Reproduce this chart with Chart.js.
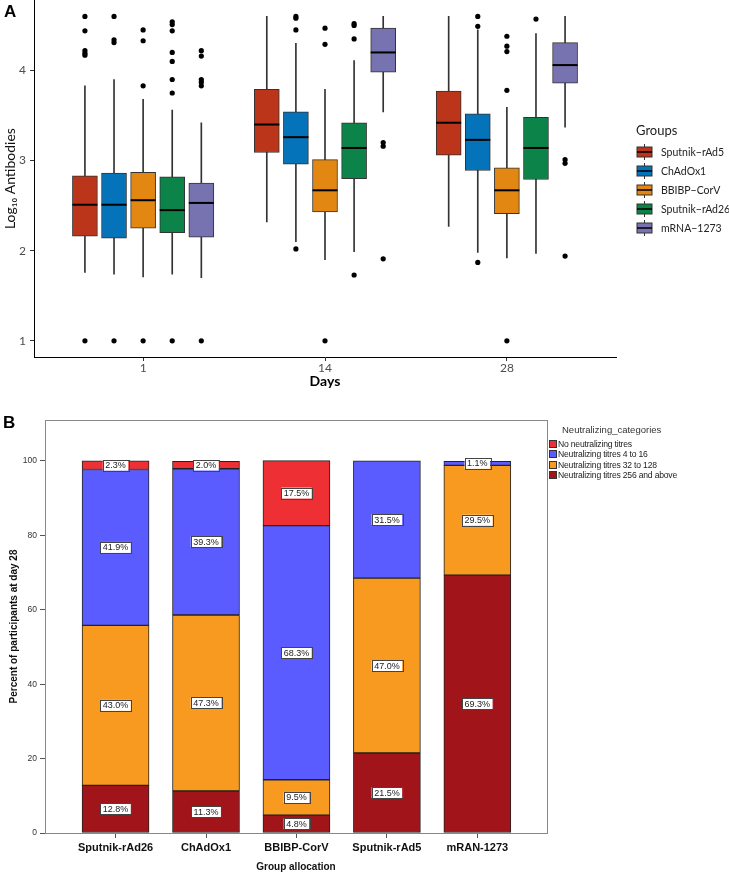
<!DOCTYPE html>
<html lang="en">
<head>
<meta charset="UTF-8" />
<title>Antibodies by group and day</title>
<script src="https://cdn.jsdelivr.net/npm/chart.js"></script>
<style>
  body { margin: 0; width: 729px; height: 877px; position: relative; background: #fff; overflow: hidden; }
  .tag { position: absolute; font-family: Arial, 'Liberation Sans', sans-serif; font-weight: 700; font-size: 17px; line-height: 20px; color: #000; z-index: 2; }
  #chartA { position: absolute; left: 0; top: -11px; }
  #chartB { position: absolute; left: 0; top: 385px; }
  /* legend A */
  #legendA { position: absolute; left: 636px; top: 121px; font-family: Lato, 'Noto Sans', sans-serif; color: #222; }
  #legendA .ttl { font-size: 13px; line-height: 18px; margin-bottom: 3px; }
  #legendA .item { height: 19px; display: flex; align-items: center; font-size: 10.5px; white-space: nowrap; }
  #legendA svg { margin-right: 8px; }
  /* legend B */
  #legendB { position: absolute; left: 549px; top: 424px; font-family: 'Liberation Sans', Arial, sans-serif; color: #222; }
  #legendB .ttl { font-size: 9.5px; line-height: 12px; margin-left: 13px; margin-bottom: 3px; color: #333; }
  #legendB .item { height: 10.3px; display: flex; align-items: center; font-size: 8.6px; letter-spacing: -0.2px; white-space: nowrap; }
  #legendB .sw { width: 6px; height: 6px; border: 1px solid #333; margin-right: 1px; }
</style>
</head>
<body>
  <div class="tag" style="left:4px; top:2px;">A</div>
  <div class="tag" style="left:3px; top:413px;">B</div>

  <canvas id="chartA" width="729" height="403"></canvas>
  <div id="legendA"></div>

  <canvas id="chartB" width="729" height="492"></canvas>
  <div id="legendB"></div>

<script>
  // ---------- panel A data ----------
  const days = ['1', '14', '28'];
  const groups = ['Sputnik\u2212rAd5', 'ChAdOx1', 'BBIBP\u2212CorV', 'Sputnik\u2212rAd26', 'mRNA\u22121273'];
  const yTicksA = [1, 2, 3, 4];

  // [group][day]
  const whiskerLow  = [[1.76, 2.32, 2.27], [1.74, 2.10, 1.98], [1.71, 1.90, 1.92], [1.74, 1.99, 1.97], [1.70, 3.54, 3.37]];
  const q1          = [[2.16, 3.09, 3.06], [2.14, 2.96, 2.89], [2.25, 2.43, 2.41], [2.20, 2.80, 2.79], [2.15, 3.98, 3.86]];
  const median      = [[2.51, 3.40, 3.42], [2.51, 3.26, 3.23], [2.56, 2.67, 2.67], [2.45, 3.14, 3.14], [2.53, 4.20, 4.06]];
  const q3          = [[2.83, 3.79, 3.77], [2.86, 3.54, 3.52], [2.87, 3.01, 2.92], [2.82, 3.42, 3.48], [2.75, 4.47, 4.31]];
  const whiskerHigh = [[3.83, 4.60, 4.60], [3.90, 4.30, 4.45], [3.68, 3.79, 3.59], [3.56, 4.11, 4.41], [3.42, 4.60, 4.60]];
  const outliers = [
    [[4.60, 4.44, 4.22, 4.19, 4.17, 1.0], [], []],
    [[4.60, 4.34, 4.31, 1.0], [4.60, 4.58, 4.45, 2.02], [4.60, 4.49, 1.87]],
    [[4.45, 4.33, 3.83, 1.0], [4.47, 4.29, 1.0], [4.38, 4.27, 4.21, 3.78, 1.0]],
    [[4.54, 4.51, 4.44, 4.20, 4.10, 3.90, 3.75, 1.0], [4.52, 4.50, 4.35, 1.73], [4.57]],
    [[4.22, 4.16, 3.90, 3.87, 3.83, 1.0], [3.20, 3.16, 1.91], [3.01, 2.97, 1.94]]
  ];

  // ---------- panel B data ----------
  const bGroups = ['Sputnik-rAd26', 'ChAdOx1', 'BBIBP-CorV', 'Sputnik-rAd5', 'mRAN-1273'];
  const categories = ['No neutralizing titres', 'Neutralizing titres 4 to 16', 'Neutralizing titres 32 to 128', 'Neutralizing titres 256 and above'];
  const noTitres      = [2.3, 2.0, 17.5, 0, 0];
  const titres4to16   = [41.9, 39.3, 68.3, 31.5, 1.1];
  const titres32to128 = [43.0, 47.3, 9.5, 47.0, 29.5];
  const titres256up   = [12.8, 11.3, 4.8, 21.5, 69.3];
  const yTicksB = [0, 20, 40, 60, 80, 100];

  const groupColors = ['#BA3519', '#0573BA', '#E18712', '#0B8349', '#7772B0'];
  const catColors = ['#EE3035', '#5A5CFF', '#F89A1F', '#A1141A'];

  const fontA = "Lato, 'Noto Sans', sans-serif";
  const fontB = "'Liberation Sans', Arial, sans-serif";

  // ---------- chart A (boxplots) ----------
  const dodge = 0.16;
  const datasetsA = [];
  const outlierPoints = [];
  groups.forEach((g, gi) => {
    const off = (gi - 2) * dodge;
    datasetsA.push({
      type: 'bar', label: g + ' whiskers',
      data: days.map((d, di) => ({ x: di + 1 + off, y: [whiskerLow[gi][di], whiskerHigh[gi][di]] })),
      backgroundColor: '#333', barThickness: 1, grouped: false, order: 3
    });
    datasetsA.push({
      type: 'bar', label: g, isBox: true, groupIndex: gi,
      data: days.map((d, di) => ({ x: di + 1 + off, y: [q1[gi][di], q3[gi][di]] })),
      backgroundColor: groupColors[gi], borderColor: '#333', borderWidth: 1, borderSkipped: false,
      barThickness: 25, grouped: false, order: 2
    });
    outliers[gi].forEach((list, di) => {
      list.forEach(v => outlierPoints.push({ x: di + 1 + off, y: v }));
    });
  });
  datasetsA.push({
    type: 'scatter', label: 'outliers', data: outlierPoints,
    pointRadius: 2.6, backgroundColor: '#000', borderWidth: 0, order: 1
  });

  const medianPlugin = {
    id: 'medians',
    afterDatasetsDraw(chart) {
      const ctx = chart.ctx;
      const y = chart.scales.y;
      chart.data.datasets.forEach((ds, i) => {
        if (!ds.isBox) return;
        chart.getDatasetMeta(i).data.forEach((bar, di) => {
          const py = y.getPixelForValue(median[ds.groupIndex][di]);
          ctx.save();
          ctx.strokeStyle = '#000';
          ctx.lineWidth = 2;
          ctx.beginPath();
          ctx.moveTo(bar.x - bar.width / 2, py);
          ctx.lineTo(bar.x + bar.width / 2, py);
          ctx.stroke();
          ctx.restore();
        });
      });
    }
  };

  new Chart(document.getElementById('chartA'), {
    type: 'bar',
    data: { datasets: datasetsA },
    plugins: [medianPlugin],
    options: {
      responsive: false,
      animation: false,
      layout: { padding: { top: 0, right: 113, left: 0, bottom: 0 } },
      plugins: { legend: { display: false }, tooltip: { enabled: false } },
      scales: {
        x: {
          type: 'linear', min: 0.4, max: 3.6, offset: false,
          afterBuildTicks: s => { s.ticks = days.map((d, i) => ({ value: i + 1 })); },
          afterFit: s => { s.height = 35; },
          ticks: { callback: v => days[v - 1], color: '#4d4d4d', font: { family: fontA, size: 12 }, padding: 0, autoSkip: false, maxRotation: 0 },
          grid: { display: true, drawOnChartArea: false, drawTicks: true, tickLength: 4, color: '#333', offset: false },
          border: { display: true, color: '#000', width: 1 },
          title: { display: true, text: 'Days', color: '#000', font: { family: fontA, size: 14, weight: 'bold' }, padding: { top: 0, bottom: 2 } }
        },
        y: {
          type: 'linear', min: 0.82, max: 4.78,
          afterBuildTicks: s => { s.ticks = yTicksA.map(v => ({ value: v })); },
          afterFit: s => { s.width = 34; },
          ticks: { color: '#4d4d4d', font: { family: fontA, size: 12 }, padding: 4 },
          grid: { display: true, drawOnChartArea: false, drawTicks: true, tickLength: 4, color: '#333' },
          border: { display: true, color: '#000', width: 1 },
          title: { display: true, text: 'Log\u2081\u2080 Antibodies', color: '#111', font: { family: fontA, size: 14 }, padding: { top: 2, bottom: 0 } }
        }
      }
    }
  });

  // legend A
  const legA = document.getElementById('legendA');
  legA.innerHTML = '<div class="ttl">Groups</div>';
  groups.forEach((g, gi) => {
    const item = document.createElement('div');
    item.className = 'item';
    item.innerHTML =
      '<svg width="17" height="16" viewBox="0 0 17 16">' +
      '<line x1="8.5" y1="0" x2="8.5" y2="16" stroke="#333" stroke-width="1"/>' +
      '<rect x="1" y="3" width="15" height="10" fill="' + groupColors[gi] + '" stroke="#333" stroke-width="1"/>' +
      '<line x1="1" y1="8" x2="16" y2="8" stroke="#000" stroke-width="1.5"/>' +
      '</svg><span>' + g + '</span>';
    legA.appendChild(item);
  });

  // ---------- chart B (stacked bars) ----------
  const seriesB = [titres256up, titres32to128, titres4to16, noTitres];
  const seriesCat = [3, 2, 1, 0];

  const framePlugin = {
    id: 'frame',
    afterDraw(chart) {
      const { ctx, chartArea: a } = chart;
      ctx.save();
      ctx.strokeStyle = '#888';
      ctx.lineWidth = 1;
      ctx.strokeRect(a.left + 0.5, a.top + 0.5, a.right - a.left, a.bottom - a.top);
      ctx.restore();
    }
  };

  const labelPlugin = {
    id: 'segmentLabels',
    afterDatasetsDraw(chart) {
      const ctx = chart.ctx;
      ctx.save();
      ctx.font = '9px ' + fontB;
      ctx.textAlign = 'center';
      ctx.textBaseline = 'middle';
      chart.data.datasets.forEach((ds, i) => {
        chart.getDatasetMeta(i).data.forEach((bar, j) => {
          const v = ds.data[j].y;
          if (!v) return;
          const txt = v.toFixed(1) + '%';
          const cy = (bar.y + bar.base) / 2;
          const w = ctx.measureText(txt).width + 5;
          const h = 11;
          ctx.fillStyle = '#fff';
          ctx.fillRect(bar.x - w / 2, cy - h / 2, w, h);
          ctx.strokeStyle = '#444';
          ctx.lineWidth = 1;
          ctx.strokeRect(Math.round(bar.x - w / 2) + 0.5, Math.round(cy - h / 2) + 0.5, Math.round(w), h);
          ctx.fillStyle = '#222';
          ctx.fillText(txt, bar.x, cy + 0.5);
        });
      });
      ctx.restore();
    }
  };

  new Chart(document.getElementById('chartB'), {
    type: 'bar',
    data: {
      datasets: seriesB.map((vals, k) => ({
        label: categories[seriesCat[k]],
        data: vals.map((v, i) => ({ x: i, y: v })),
        backgroundColor: catColors[seriesCat[k]],
        borderColor: '#222', borderWidth: 1, borderSkipped: false,
        barThickness: 67
      }))
    },
    plugins: [labelPlugin, framePlugin],
    options: {
      responsive: false,
      animation: false,
      layout: { padding: { top: 35, right: 182, left: 0, bottom: 0 } },
      plugins: { legend: { display: false }, tooltip: { enabled: false } },
      scales: {
        x: {
          type: 'linear', min: -0.78, max: 4.77, offset: false, stacked: true,
          afterBuildTicks: s => { s.ticks = bGroups.map((g, i) => ({ value: i })); },
          afterFit: s => { s.height = 44; },
          ticks: { callback: v => bGroups[v], color: '#111', font: { family: fontB, size: 11, weight: 'bold' }, padding: 3, autoSkip: false, maxRotation: 0 },
          grid: { display: true, drawOnChartArea: false, drawTicks: true, tickLength: 5, color: '#555', offset: false },
          border: { display: false },
          title: { display: true, text: 'Group allocation', color: '#111', font: { family: fontB, size: 10, weight: 'bold' }, padding: { top: 0, bottom: 4 } }
        },
        y: {
          type: 'linear', min: 0, max: 111, stacked: true,
          afterBuildTicks: s => { s.ticks = yTicksB.map(v => ({ value: v })); },
          afterFit: s => { s.width = 45; },
          ticks: { color: '#333', font: { family: fontB, size: 8.5 }, padding: 3 },
          grid: { display: true, drawOnChartArea: false, drawTicks: true, tickLength: 5, color: '#555' },
          border: { display: false },
          title: { display: true, text: 'Percent of participants at day 28', color: '#111', font: { family: fontB, size: 10, weight: 'bold' }, padding: { top: 8, bottom: 0 } }
        }
      }
    }
  });

  // legend B
  const legB = document.getElementById('legendB');
  legB.innerHTML = '<div class="ttl">Neutralizing_categories</div>';
  categories.forEach((c, k) => {
    const item = document.createElement('div');
    item.className = 'item';
    item.innerHTML = '<div class="sw" style="background:' + catColors[k] + '"></div><span>' + c + '</span>';
    legB.appendChild(item);
  });
</script>
</body>
</html>
